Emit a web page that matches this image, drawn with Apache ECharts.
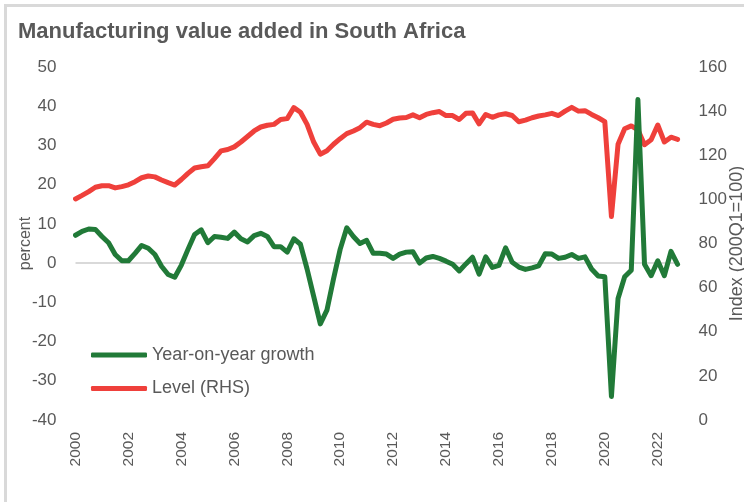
<!DOCTYPE html>
<html>
<head>
<meta charset="utf-8">
<script src="https://cdn.jsdelivr.net/npm/echarts@6/dist/echarts.min.js"></script>
<style>
html,body{margin:0;padding:0;background:#fff;overflow:hidden;}
#chart{width:744px;height:502px;}
</style>
</head>
<body>
<div id="chart"></div>
<script>
// ---- data ----
const titleText = 'Manufacturing value added in South Africa';
const years = [2000, 2001, 2002, 2003, 2004, 2005, 2006, 2007, 2008, 2009, 2010, 2011,
               2012, 2013, 2014, 2015, 2016, 2017, 2018, 2019, 2020, 2021, 2022];
const quarters = ['Q1', 'Q2', 'Q3', 'Q4'];
const seriesNames = ['Year-on-year growth', 'Level (RHS)'];
const leftAxisName = 'percent';
const rightAxisName = 'Index (200Q1=100)';
const leftTicks = { min: -40, max: 50, interval: 10 };
const rightTicks = { min: 0, max: 160, interval: 20 };

// year-on-year growth, percent (2000Q1 .. 2022Q4)
const growth = [
  7.1, 8.1, 8.7, 8.6, 6.8, 5.2, 2.2, 0.6,
  0.6, 2.5, 4.5, 3.8, 2.2, -0.8, -2.9, -3.6,
  -0.5, 3.5, 7.3, 8.5, 5.2, 6.8, 6.6, 6.3,
  7.9, 6.2, 5.4, 7.0, 7.6, 6.8, 4.2, 4.2,
  2.8, 6.2, 4.8, -1.5, -8.5, -15.5, -12.0, -4.0,
  3.5, 9.0, 6.8, 5.0, 5.8, 2.5, 2.5, 2.3,
  1.2, 2.3, 2.8, 2.9, 0.0, 1.3, 1.7, 1.2,
  0.5, -0.3, -2.0, -0.2, 1.5, -2.8, 1.6, -1.1,
  -0.6, 3.9, 0.2, -1.0, -1.6, -1.2, -0.7, 2.4,
  2.3, 1.2, 1.5, 2.2, 1.2, 1.6, -1.5, -3.3,
  -3.5, -34.0, -9.0, -3.5, -1.8, 41.7, -0.3, -3.2,
  0.6, -3.2, 3.0, -0.3
];

// level index (2000Q1 = 100)
const level = [
  100.2, 101.8, 103.5, 105.5, 106.2, 106.2, 105.2, 105.8,
  106.6, 108.0, 109.8, 110.6, 110.2, 108.8, 107.6, 106.5,
  109.0, 111.8, 114.2, 114.8, 115.2, 118.5, 122.0, 122.6,
  123.8, 126.0, 128.5, 131.0, 132.8, 133.6, 134.0, 136.2,
  136.6, 141.6, 139.5, 134.0, 126.0, 120.5, 122.0, 125.0,
  127.5, 129.8, 131.0, 132.5, 135.0, 134.0, 133.4, 134.6,
  136.3, 136.9, 137.1, 138.3, 137.0, 138.5, 139.3, 139.8,
  138.0, 138.0, 136.2, 139.0, 139.2, 134.2, 138.5, 137.2,
  138.3, 138.8, 138.0, 135.2, 135.9, 137.0, 137.8, 138.3,
  139.0, 138.0, 140.0, 141.7, 140.0, 140.2, 138.5, 137.0,
  135.2, 92.2, 125.0, 132.0, 133.3, 131.5, 124.8, 127.0,
  133.7, 126.0, 128.2, 127.2
];

// ---- chart ----
const categories = [];
years.forEach(y => quarters.forEach(q => categories.push(y + q)));

const textColor = '#595959';
const green = '#217a38';
const red = '#ef403b';
const font = 'Liberation Sans, Arial, sans-serif';

const chart = echarts.init(document.getElementById('chart'), null, { renderer: 'canvas' });
chart.setOption({
  animation: false,
  backgroundColor: '#ffffff',
  textStyle: { fontFamily: font, color: textColor },
  title: {
    text: titleText,
    left: 18,
    top: 21,
    padding: 0,
    textStyle: { fontFamily: font, fontSize: 22, fontWeight: 'bold', color: textColor }
  },
  graphic: [{
    type: 'rect',
    silent: true,
    z: -1,
    shape: { x: 5.5, y: 5.5, width: 900, height: 700 },
    style: { fill: 'none', stroke: '#d9d9d9', lineWidth: 3 }
  }],
  legend: {
    orient: 'vertical',
    left: 91,
    top: 346,
    padding: 0,
    itemGap: 15.5,
    itemWidth: 56,
    itemHeight: 5,
    icon: 'roundRect',
    data: seriesNames,
    textStyle: { fontFamily: font, fontSize: 18, color: textColor }
  },
  grid: { left: 75.5, right: 66.4, top: 67, bottom: 82, containLabel: false, outerBoundsMode: 'none' },
  xAxis: {
    type: 'category',
    data: categories,
    boundaryGap: false,
    axisLine: { show: false },
    axisTick: { show: false },
    splitLine: { show: false },
    axisLabel: {
      interval: 7,
      rotate: 90,
      margin: 12,
      fontSize: 15.5,
      color: textColor,
      fontFamily: font,
      formatter: v => v.slice(0, 4)
    }
  },
  yAxis: [{
    type: 'value',
    position: 'left',
    min: leftTicks.min, max: leftTicks.max, interval: leftTicks.interval,
    name: leftAxisName,
    nameLocation: 'middle',
    nameGap: 42,
    nameMoveOverlap: false,
    nameTextStyle: { fontSize: 16, color: textColor, fontFamily: font },
    axisLine: { show: false },
    axisTick: { show: false },
    splitLine: { show: false },
    axisLabel: { fontSize: 17, color: textColor, margin: 19, fontFamily: font }
  }, {
    type: 'value',
    position: 'right',
    min: rightTicks.min, max: rightTicks.max, interval: rightTicks.interval,
    name: rightAxisName,
    nameLocation: 'middle',
    nameGap: 50,
    nameRotate: 90,
    nameMoveOverlap: false,
    nameTextStyle: { fontSize: 18, color: textColor, fontFamily: font },
    axisLine: { show: false },
    axisTick: { show: false },
    splitLine: { show: false },
    axisLabel: { fontSize: 17, color: textColor, margin: 21, fontFamily: font }
  }],
  series: [{
    name: seriesNames[0],
    type: 'line',
    yAxisIndex: 0,
    data: growth,
    z: 3,
    symbol: 'none',
    lineStyle: { color: green, width: 5, cap: 'round', join: 'round' },
    itemStyle: { color: green },
    markLine: {
      silent: true,
      symbol: ['none', 'none'],
      label: { show: false },
      lineStyle: { color: '#d9d9d9', type: 'solid', width: 2 },
      data: [{ yAxis: 0 }],
      z: 1
    }
  }, {
    name: seriesNames[1],
    type: 'line',
    yAxisIndex: 1,
    data: level,
    z: 2,
    symbol: 'none',
    lineStyle: { color: red, width: 5, cap: 'round', join: 'round' },
    itemStyle: { color: red }
  }]
});
</script>
</body>
</html>
